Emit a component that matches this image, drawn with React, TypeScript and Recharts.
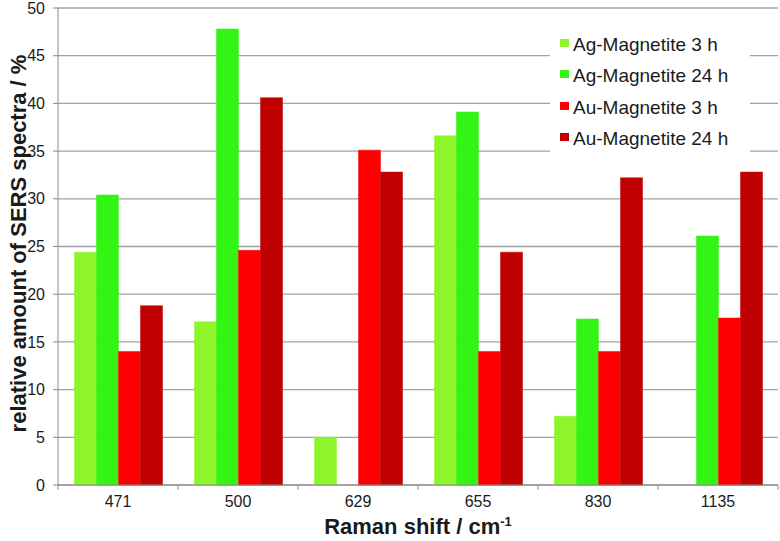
import React from 'react'
import { Bar, BarChart, CartesianGrid, XAxis, YAxis, Legend } from 'recharts'

// Raman shift bands (cm-1)
const categories = ['471', '500', '629', '655', '830', '1135']

// relative amount of SERS spectra, %
const agMagnetite3h = [24.4, 17.1, 5.0, 36.6, 7.2, 0]
const agMagnetite24h = [30.4, 47.8, 0, 39.1, 17.4, 26.1]
const auMagnetite3h = [14.0, 24.6, 35.1, 14.0, 14.0, 17.5]
const auMagnetite24h = [18.8, 40.6, 32.8, 24.4, 32.2, 32.8]

const yTicks = [0, 5, 10, 15, 20, 25, 30, 35, 40, 45, 50]

const seriesNames = ['Ag-Magnetite 3 h', 'Ag-Magnetite 24 h', 'Au-Magnetite 3 h', 'Au-Magnetite 24 h']
const seriesColors = ['#8df52a', '#33f514', '#ff0000', '#c00000']

const data = categories.map((c, i) => ({
  shift: c,
  ag3: agMagnetite3h[i],
  ag24: agMagnetite24h[i],
  au3: auMagnetite3h[i],
  au24: auMagnetite24h[i],
}))

const FONT = '"Liberation Sans", Arial, sans-serif'
const W = 780
const H = 541
const Y_AXIS_W = 58
const MARGIN_RIGHT = 2
const band = (W - Y_AXIS_W - MARGIN_RIGHT) / categories.length

const XTick = (props: any) => {
  const { x, y, payload, index } = props
  const left = x - band / 2
  const right = x + band / 2
  return (
    <g>
      <line x1={left} y1={y} x2={left} y2={y + 5} stroke="#8c8c8c" />
      {index === categories.length - 1 && <line x1={right} y1={y} x2={right} y2={y + 5} stroke="#8c8c8c" />}
      <text x={x} y={y + 22} textAnchor="middle" fontSize={16} fontFamily={FONT} fill="#1a1a1a">
        {payload.value}
      </text>
    </g>
  )
}

const renderLegend = () => (
  <div style={{ fontFamily: FONT, fontSize: 19, color: '#1a1a1a', paddingTop: 7, paddingLeft: 10 }}>
    {seriesNames.map((n, i) => (
      <div key={n} style={{ height: 31.3, lineHeight: '31.3px', display: 'flex', alignItems: 'center', whiteSpace: 'nowrap' }}>
        <span style={{ width: 9, height: 8, background: seriesColors[i], marginRight: 4, marginTop: -3, display: 'inline-block' }} />
        {n}
      </div>
    ))}
  </div>
)

export default function App() {
  return (
    <div style={{ position: 'absolute', left: 0, top: 0, background: '#fff' }}>
      <BarChart
        width={W}
        height={H}
        data={data}
        margin={{ top: 8, right: MARGIN_RIGHT, bottom: 0, left: 0 }}
        barGap={0}
        barCategoryGap="13.75%"
      >
        <CartesianGrid vertical={false} stroke="#9fa3a5" strokeWidth={1.3} />
        <XAxis
          dataKey="shift"
          height={56}
          tickSize={0}
          tickMargin={0}
          tick={<XTick />}
          stroke="#8c8c8c"
          interval={0}
          label={{
            content: (p: any) => {
              const vb = p.viewBox
              return (
                <text x={vb.x + vb.width / 2} y={vb.y + 49} textAnchor="middle" fontFamily={FONT} fontWeight="bold" fontSize={22} fill="#1a1a1a">
                  Raman shift / cm
                  <tspan dy={-8} fontSize={13}>-1</tspan>
                </text>
              )
            },
          }}
        />
        <YAxis
          width={Y_AXIS_W}
          domain={[0, 50]}
          ticks={yTicks}
          interval={0}
          tickSize={5}
          tickMargin={8}
          stroke="#8c8c8c"
          tick={{ fontSize: 16, fontFamily: FONT, fill: '#1a1a1a' }}
          label={{
            content: (p: any) => {
              const vb = p.viewBox
              const cy = vb.y + vb.height / 2 - 3
              return (
                <text x={18} y={cy} transform={`rotate(-90, 18, ${cy})`} textAnchor="middle" dominantBaseline="central" fontFamily={FONT} fontWeight="bold" fontSize={22} fill="#1a1a1a">
                  relative amount of SERS spectra / %
                </text>
              )
            },
          }}
        />
        <Legend
          layout="vertical"
          align="center"
          verticalAlign="middle"
          content={renderLegend}
          wrapperStyle={{ left: 550, top: 22, width: 200, height: 143, background: '#fff' }}
        />
        <Bar dataKey="ag3" name={seriesNames[0]} fill={seriesColors[0]} stroke={seriesColors[0]} strokeWidth={0.5} isAnimationActive={false} />
        <Bar dataKey="ag24" name={seriesNames[1]} fill={seriesColors[1]} stroke={seriesColors[1]} strokeWidth={0.5} isAnimationActive={false} />
        <Bar dataKey="au3" name={seriesNames[2]} fill={seriesColors[2]} stroke={seriesColors[2]} strokeWidth={0.5} isAnimationActive={false} />
        <Bar dataKey="au24" name={seriesNames[3]} fill={seriesColors[3]} stroke={seriesColors[3]} strokeWidth={0.5} isAnimationActive={false} />
      </BarChart>
    </div>
  )
}
